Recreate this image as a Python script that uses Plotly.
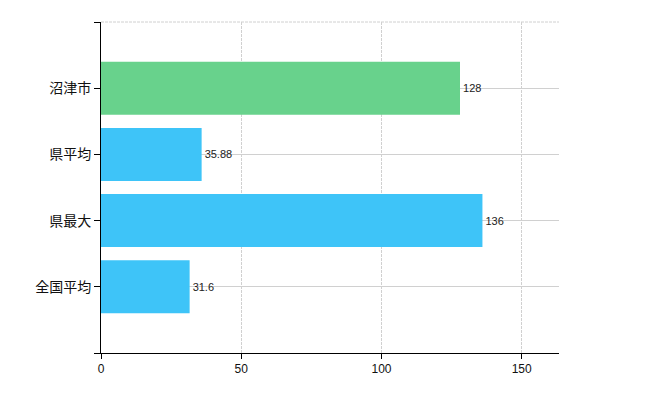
import plotly.graph_objects as go

categories = ["沼津市", "県平均", "県最大", "全国平均"]
values = [128, 35.88, 136, 31.6]
labels = ["128", "35.88", "136", "31.6"]
colors = ["#68D28C", "#3EC4F8", "#3EC4F8", "#3EC4F8"]
positions = [3, 2, 1, 0]

fig = go.Figure(go.Bar(
    x=values, y=positions, orientation="h",
    marker=dict(color=colors, line=dict(width=0)),
    width=0.8,
    text=labels, textposition="outside", cliponaxis=False,
    textfont=dict(size=11, color="#222", family="Liberation Sans, Arial"),
))

fig.update_layout(
    width=650, height=400,
    margin=dict(l=101, r=91, t=22, b=47),
    paper_bgcolor="white", plot_bgcolor="white",
    showlegend=False,
    font=dict(family="Noto Sans CJK JP, Liberation Sans", size=12, color="#111"),
    xaxis=dict(
        range=[0, 163.3], tickvals=[0, 50, 100, 150],
        showgrid=True, gridcolor="#D0D0D0", griddash="3px,1px", gridwidth=1,
        showline=True, linecolor="black", linewidth=1,
        ticks="outside", ticklen=5, tickcolor="black",
        tickfont=dict(size=12, family="Liberation Sans, Arial"),
        zeroline=False,
    ),
    yaxis=dict(
        range=[-1, 4], tickvals=[-1, 0, 1, 2, 3, 4],
        ticktext=["", categories[3], categories[2], categories[1], categories[0], ""],
        showgrid=True, gridcolor="#D0D0D0", gridwidth=1,
        showline=True, linecolor="black", linewidth=1,
        ticks="outside", ticklen=6, tickcolor="black",
        tickfont=dict(size=14),
        zeroline=False,
    ),
    shapes=[dict(type="line", xref="paper", yref="paper", x0=0, x1=1, y0=1, y1=1,
                 line=dict(color="#D0D0D0", width=1, dash="3px,1px"), layer="below")],
)

fig.write_html("out.html")
